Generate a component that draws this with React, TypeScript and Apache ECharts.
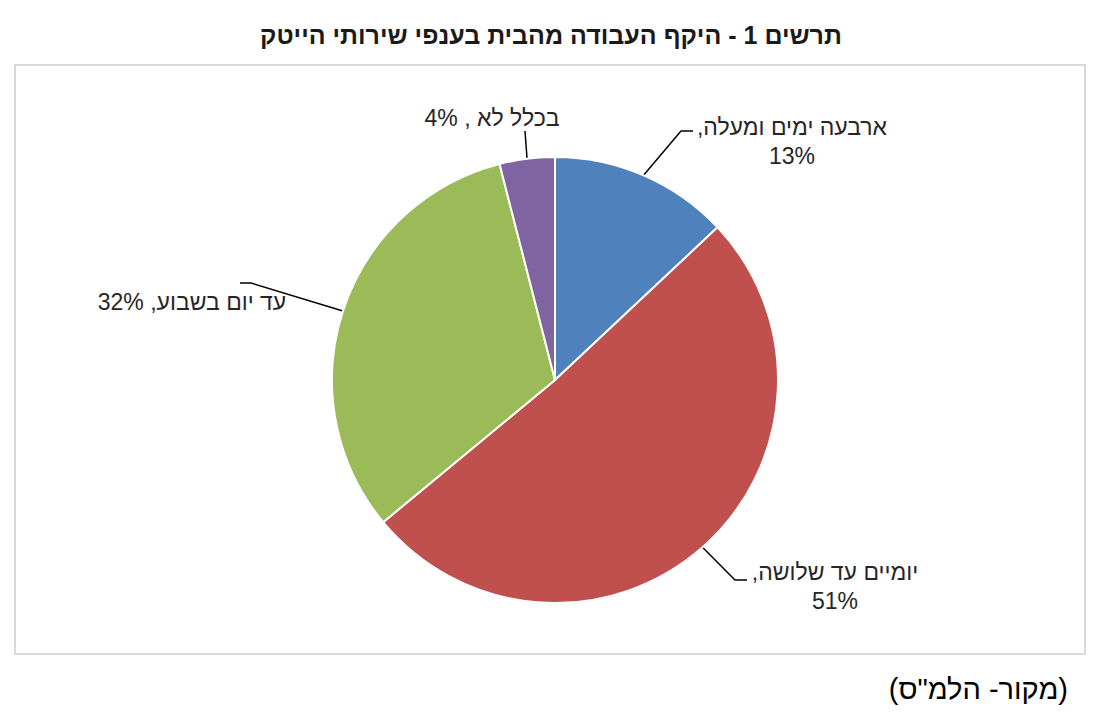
import React, { useEffect, useRef } from "react";
import * as echarts from "echarts";

const categories = ["ארבעה ימים ומעלה", "יומיים עד שלושה", "עד יום בשבוע", "בכלל לא"];
const values = [13, 51, 32, 4];
const colors = ["#4f81bd", "#c0504d", "#9bbb59", "#8064a2"];
const titleText = "תרשים 1 - היקף העבודה מהבית בענפי שירותי הייטק";
const sourceText = "\u202B(מקור- הלמ\"ס)\u202C";

const FONT = "'Liberation Sans', Arial, 'DejaVu Sans', sans-serif";
const RLM = "\u200F";

function labelText(i: number, name: string, value: number): string {
  if (i === 0 || i === 1) return `${name},${RLM}\n${value}%`;
  if (i === 2) return `${name}, ${value}%`;
  return `${name} , ${value}%`;
}

// label anchors and leader-line elbows (layout only)
const labelPos = [
  { x: 792, y: 141, elbow: [681, 131], end: [693, 131] },
  { x: 835, y: 586, elbow: [735, 580], end: [747, 580] },
  { x: 192, y: 302, elbow: [251, 283], end: [240, 283] },
  { x: 492, y: 118, elbow: [525, 131], end: [525, 131] },
];

export default function App() {
  const ref = useRef<HTMLDivElement>(null);
  useEffect(() => {
    document.body.style.margin = "0";
    if (!ref.current) return;
    const chart = echarts.init(ref.current, undefined, { renderer: "svg" });
    chart.setOption({
      animation: false,
      backgroundColor: "#ffffff",
      graphic: [
        {
          type: "text",
          x: 551,
          y: 35,
          style: {
            text: titleText,
            fontFamily: FONT,
            fontSize: 25,
            fontWeight: "bold",
            fill: "#1a1a1a",
            textAlign: "center",
            textVerticalAlign: "middle",
          },
        },
        {
          type: "rect",
          shape: { x: 15, y: 65, width: 1070, height: 589 },
          style: { fill: "none", stroke: "#d9d9d9", lineWidth: 2 },
          silent: true,
        },
        {
          type: "text",
          x: 1068,
          y: 689,
          style: {
            text: sourceText,
            fontFamily: FONT,
            fontSize: 29,
            fill: "#000000",
            textAlign: "right",
            textVerticalAlign: "middle",
          },
        },
      ],
      series: [
        {
          type: "pie",
          center: [555, 380],
          radius: 223,
          startAngle: 90,
          clockwise: true,
          data: categories.map((name, i) => ({
            name,
            value: values[i],
            itemStyle: { color: colors[i] },
          })),
          itemStyle: { borderColor: "#ffffff", borderWidth: 2 },
          emphasis: { disabled: true },
          label: {
            show: true,
            position: "outside",
            formatter: (p: any) => labelText(p.dataIndex, p.name, p.value),
            fontFamily: FONT,
            fontSize: 23,
            lineHeight: 29,
            color: "#262626",
            align: "center",
          },
          labelLine: {
            show: true,
            length: 20,
            length2: 10,
            lineStyle: { color: "#000000", width: 1.5 },
          },
          labelLayout: (params: any) => {
            const i = params.dataIndex;
            const lp = labelPos[i];
            const p0 = params.labelLinePoints ? params.labelLinePoints[0] : lp.elbow;
            return {
              x: lp.x,
              y: lp.y,
              align: "center",
              verticalAlign: "middle",
              labelLinePoints: [p0, lp.elbow, lp.end],
            };
          },
        },
      ],
    });
    return () => chart.dispose();
  }, []);
  return <div ref={ref} style={{ width: 1096, height: 726 }} />;
}
